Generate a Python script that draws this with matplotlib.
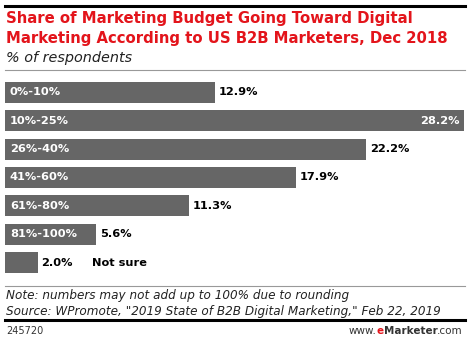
import matplotlib.pyplot as plt
from matplotlib.lines import Line2D

# budget share buckets and percent of respondents
categories = ['0%-10%', '10%-25%', '26%-40%', '41%-60%', '61%-80%', '81%-100%', 'Not sure']
values = [12.9, 28.2, 22.2, 17.9, 11.3, 5.6, 2.0]

W, H = 470, 342
fig = plt.figure(figsize=(W / 100, H / 100), dpi=100)
plt.rcParams['font.family'] = ['DejaVu Sans']

def fx(px):
    return px / W

def fy(py):
    return 1 - py / H

# rules
fig.add_artist(Line2D([fx(5), fx(465)], [fy(6), fy(6)], color='black', lw=2.2))
fig.add_artist(Line2D([fx(5), fx(465)], [fy(70), fy(70)], color='#999999', lw=0.8))
fig.add_artist(Line2D([fx(5), fx(465)], [fy(286), fy(286)], color='#999999', lw=0.8))
fig.add_artist(Line2D([fx(5), fx(465)], [fy(320), fy(320)], color='black', lw=2.2))

fig.text(fx(6), fy(18), 'Share of Marketing Budget Going Toward Digital', color='#e3141b',
         fontsize=10.7, fontweight='bold', va='center', ha='left')
fig.text(fx(6), fy(38), 'Marketing According to US B2B Marketers, Dec 2018', color='#e3141b',
         fontsize=10.7, fontweight='bold', va='center', ha='left')
fig.text(fx(6), fy(58), '% of respondents', color='#222222', fontsize=10.4,
         style='italic', va='center', ha='left')

ax = fig.add_axes([fx(5), fy(277), fx(464) - fx(5), fy(78) - fy(277)])
ypos = list(range(len(categories)))
ax.barh(ypos, values, height=0.74, color='#666666')
ax.set_xlim(0, max(values))
ax.set_ylim(len(categories) - 0.5, -0.5)
ax.axis('off')

for i, (cat, v) in enumerate(zip(categories, values)):
    if cat == 'Not sure':
        ax.annotate(f'{v:.1f}%', (v, i), xytext=(2.5, 0), textcoords='offset points',
                    va='center', ha='left', fontsize=8.2, fontweight='bold', color='black')
        ax.annotate(cat, (v, i), xytext=(39, 0), textcoords='offset points',
                    va='center', ha='left', fontsize=8.2, fontweight='bold', color='black')
        continue
    ax.annotate(cat, (0, i), xytext=(3.5, 0), textcoords='offset points',
                va='center', ha='left', fontsize=8.2, fontweight='bold', color='white')
    if v == max(values):
        ax.annotate(f'{v:.1f}%', (v, i), xytext=(-3.5, 0), textcoords='offset points',
                    va='center', ha='right', fontsize=8.2, fontweight='bold', color='white')
    else:
        ax.annotate(f'{v:.1f}%', (v, i), xytext=(2.5, 0), textcoords='offset points',
                    va='center', ha='left', fontsize=8.2, fontweight='bold', color='black')

fig.text(fx(6), fy(296), 'Note: numbers may not add up to 100% due to rounding',
         fontsize=8.65, style='italic', color='#222222', va='center', ha='left')
fig.text(fx(6), fy(311), 'Source: WPromote, "2019 State of B2B Digital Marketing," Feb 22, 2019',
         fontsize=8.65, style='italic', color='#222222', va='center', ha='left')
fig.text(fx(6), fy(331), '245720', fontsize=7, color='#333333', va='center', ha='left')
fig.text(fx(463), fy(331), '.com', fontsize=7.5, color='#333333', va='center', ha='right')

# footer brand, built right to left
r = fig.canvas.get_renderer()
t_com = fig.texts[-1]
bb = t_com.get_window_extent(renderer=r)
t_m = fig.text(bb.x0 / W, fy(331), 'Marketer', fontsize=7.5, fontweight='bold', color='#333333',
               va='center', ha='right')
bb = t_m.get_window_extent(renderer=r)
t_e = fig.text(bb.x0 / W, fy(331), 'e', fontsize=7.5, fontweight='bold', color='#e3141b',
               va='center', ha='right')
bb = t_e.get_window_extent(renderer=r)
fig.text(bb.x0 / W, fy(331), 'www.', fontsize=7.5, color='#333333', va='center', ha='right')

fig.savefig('out.png', dpi=100)
